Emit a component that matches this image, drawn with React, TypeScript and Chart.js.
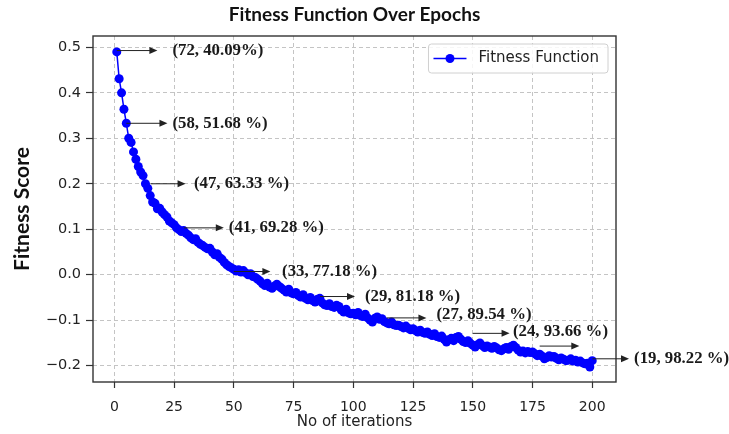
import React, { useEffect, useRef } from "react";
import { Chart, registerables } from "chart.js";

Chart.register(...registerables);

// ---- data ----
const fitness: number[] = [
  0.490, 0.431, 0.400, 0.364, 0.333, 0.300, 0.291, 0.270, 0.254, 0.238,
  0.226, 0.218, 0.200, 0.190, 0.174, 0.160, 0.157, 0.145, 0.146, 0.138,
  0.132, 0.127, 0.118, 0.114, 0.110, 0.103, 0.099, 0.095, 0.097, 0.091,
  0.087, 0.081, 0.077, 0.079, 0.071, 0.067, 0.064, 0.060, 0.057, 0.058,
  0.050, 0.044, 0.046, 0.038, 0.034, 0.027, 0.022, 0.018, 0.015, 0.012,
  0.008, 0.011, 0.006, 0.009, 0.004, 0.000, 0.002, -0.004, -0.006, -0.010,
  -0.014, -0.020, -0.024, -0.019, -0.027, -0.030, -0.025, -0.021, -0.026, -0.030,
  -0.034, -0.038, -0.032, -0.040, -0.042, -0.039, -0.046, -0.049, -0.044, -0.052,
  -0.055, -0.050, -0.057, -0.060, -0.054, -0.052, -0.062, -0.066, -0.068, -0.064,
  -0.070, -0.072, -0.067, -0.070, -0.078, -0.082, -0.076, -0.084, -0.086, -0.085,
  -0.088, -0.083, -0.090, -0.092, -0.087, -0.095, -0.100, -0.104, -0.096, -0.093,
  -0.098, -0.097, -0.103, -0.106, -0.108, -0.104, -0.110, -0.112, -0.111, -0.114,
  -0.117, -0.113, -0.118, -0.121, -0.119, -0.123, -0.126, -0.122, -0.127, -0.129,
  -0.126, -0.131, -0.134, -0.130, -0.136, -0.138, -0.135, -0.142, -0.148, -0.143,
  -0.140, -0.145, -0.138, -0.136, -0.142, -0.147, -0.149, -0.145, -0.151, -0.155,
  -0.159, -0.154, -0.150, -0.156, -0.160, -0.157, -0.159, -0.162, -0.158, -0.161,
  -0.165, -0.167, -0.163, -0.160, -0.164, -0.158, -0.155, -0.160, -0.166, -0.170,
  -0.168, -0.172, -0.169, -0.171, -0.170, -0.174, -0.178, -0.175, -0.179, -0.185,
  -0.182, -0.178, -0.181, -0.180, -0.184, -0.187, -0.183, -0.186, -0.189, -0.188,
  -0.185, -0.190, -0.188, -0.192, -0.190, -0.194, -0.196, -0.195, -0.203, -0.189,
];

const xTickValues: number[] = [0, 25, 50, 75, 100, 125, 150, 175, 200];
const yTickValues: number[] = [-0.2, -0.1, 0.0, 0.1, 0.2, 0.3, 0.4, 0.5];

// annotations (matplotlib-style annotate: arrow from point, text to the right)
const annFromX: number[] = [1, 5, 15.2, 29.1, 50, 86.1, 114, 150, 178, 200.1];
const annFromY: number[] = [0.493, 0.333, 0.2, 0.103, 0.007, -0.048, -0.095, -0.129, -0.157, -0.185];
const annToX: number[] = [18.0, 22.2, 29.8, 45.8, 65.3, 100.7, 130.6, 165.4, 194.6, 215.4];
const annTextX: number[] = [24.3, 24.3, 33.3, 47.9, 70.2, 104.9, 134.8, 166.8, 0, 217.5];
const annTextY: number[] = [0.493, 0.333, 0.2, 0.103, 0.007, -0.048, -0.087, -0.126, -0.157, -0.185];
const annLabels: string[] = [
  "(72, 40.09%)",
  "(58, 51.68 %)",
  "(47, 63.33 %)",
  "(41, 69.28 %)",
  "(33, 77.18 %)",
  "(29, 81.18 %)",
  "(27, 89.54 %)",
  "(24, 93.66 %)",
  "",
  "(19, 98.22 %)",
];

const chartTitle = "Fitness Function Over Epochs";
const seriesName = "Fitness Function";
const xTitle = "No of iterations";
const yTitle = "Fitness Score";

const BLUE = "#0000ff";
const TICK_FONT = "DejaVu Sans";

const decorPlugin = {
  id: "decor",
  afterDraw(chart: any) {
    const { ctx, chartArea } = chart;
    const xs = chart.scales.x;
    const ys = chart.scales.y;
    const { left, right, top, bottom } = chartArea;
    ctx.save();

    // frame
    ctx.strokeStyle = "#333";
    ctx.lineWidth = 1.4;
    ctx.setLineDash([]);
    ctx.strokeRect(left, top, right - left, bottom - top);

    // title
    ctx.fillStyle = "#111";
    ctx.font = "bold 19px Lato";
    ctx.textAlign = "center";
    ctx.textBaseline = "alphabetic";
    ctx.fillText(chartTitle, (left + right) / 2, 21);

    // annotations
    for (let i = 0; i < annLabels.length; i++) {
      const x0 = xs.getPixelForValue(annFromX[i]);
      const y0 = ys.getPixelForValue(annFromY[i]);
      const x1 = xs.getPixelForValue(annToX[i]);
      ctx.strokeStyle = "#222";
      ctx.fillStyle = "#222";
      ctx.lineWidth = 1;
      ctx.beginPath();
      ctx.moveTo(x0, y0);
      ctx.lineTo(x1 - 6, y0);
      ctx.stroke();
      ctx.beginPath();
      ctx.moveTo(x1, y0);
      ctx.lineTo(x1 - 8, y0 - 3.5);
      ctx.lineTo(x1 - 8, y0 + 3.5);
      ctx.closePath();
      ctx.fill();
      if (annLabels[i]) {
        ctx.font = "bold 16.8px 'Liberation Serif'";
        ctx.textAlign = "left";
        ctx.textBaseline = "middle";
        ctx.fillStyle = "#1a1a1a";
        ctx.fillText(annLabels[i], xs.getPixelForValue(annTextX[i]), ys.getPixelForValue(annTextY[i]));
      }
    }

    // legend
    ctx.font = `15px '${TICK_FONT}'`;
    const tw = ctx.measureText(seriesName).width;
    const padL = 5, lineLen = 33, gap = 12, padR = 9;
    const bw = padL + lineLen + gap + tw + padR;
    const bh = 29;
    const bx = right - 8 - bw;
    const by = top + 8;
    ctx.beginPath();
    const r = 3;
    ctx.moveTo(bx + r, by);
    ctx.lineTo(bx + bw - r, by);
    ctx.quadraticCurveTo(bx + bw, by, bx + bw, by + r);
    ctx.lineTo(bx + bw, by + bh - r);
    ctx.quadraticCurveTo(bx + bw, by + bh, bx + bw - r, by + bh);
    ctx.lineTo(bx + r, by + bh);
    ctx.quadraticCurveTo(bx, by + bh, bx, by + bh - r);
    ctx.lineTo(bx, by + r);
    ctx.quadraticCurveTo(bx, by, bx + r, by);
    ctx.closePath();
    ctx.fillStyle = "rgba(255,255,255,0.85)";
    ctx.fill();
    ctx.strokeStyle = "#d0d0d0";
    ctx.lineWidth = 1;
    ctx.stroke();
    const ly = by + bh / 2;
    ctx.strokeStyle = BLUE;
    ctx.lineWidth = 1.5;
    ctx.beginPath();
    ctx.moveTo(bx + padL, ly);
    ctx.lineTo(bx + padL + lineLen, ly);
    ctx.stroke();
    ctx.fillStyle = BLUE;
    ctx.beginPath();
    ctx.arc(bx + padL + lineLen / 2, ly, 4.5, 0, Math.PI * 2);
    ctx.fill();
    ctx.fillStyle = "#222";
    ctx.textAlign = "left";
    ctx.textBaseline = "middle";
    ctx.fillText(seriesName, bx + padL + lineLen + gap, ly);

    ctx.restore();
  },
};

export default function App() {
  const ref = useRef<HTMLCanvasElement | null>(null);

  useEffect(() => {
    if (!ref.current) return;
    const chart = new Chart(ref.current, {
      type: "line",
      data: {
        datasets: [
          {
            label: seriesName,
            data: fitness.map((v, i) => ({ x: i + 1, y: v })),
            borderColor: BLUE,
            backgroundColor: BLUE,
            borderWidth: 1.5,
            pointRadius: 4.5,
            pointBorderWidth: 0,
            pointBackgroundColor: BLUE,
            tension: 0,
          },
        ],
      },
      options: {
        animation: false,
        responsive: true,
        maintainAspectRatio: false,
        layout: { padding: { left: 0, top: 36, right: 113, bottom: 0 } },
        plugins: {
          legend: { display: false },
          title: { display: false },
          tooltip: { enabled: false },
        },
        scales: {
          x: {
            type: "linear",
            min: -8.95,
            max: 209.95,
            afterBuildTicks: (s: any) => {
              s.ticks = xTickValues.map((v) => ({ value: v }));
            },
            afterFit: (s: any) => {
              s.height = 52;
            },
            ticks: {
              color: "#222",
              padding: 11,
              font: { family: TICK_FONT, size: 14 },
              callback: (v: any) => String(v),
              maxRotation: 0,
            },
            grid: {
              color: "#c4c4c4",
              lineWidth: 1,
              tickLength: 6,
              tickColor: "#333",
              tickWidth: 1.2,
            },
            border: { display: false, dash: [4, 3] },
            title: {
              display: true,
              text: xTitle,
              color: "#222",
              font: { family: TICK_FONT, size: 15 },
              padding: { top: 0, bottom: 3 },
            },
          },
          y: {
            type: "linear",
            min: -0.236,
            max: 0.525,
            afterBuildTicks: (s: any) => {
              s.ticks = yTickValues.map((v) => ({ value: v }));
            },
            afterFit: (s: any) => {
              s.width = 93;
            },
            ticks: {
              color: "#222",
              padding: 5,
              font: { family: TICK_FONT, size: 14.5 },
              callback: (v: any) => {
                const n = Number(v);
                const s = Math.abs(n).toFixed(1);
                return n < -1e-9 ? "\u2212" + s : s;
              },
            },
            grid: {
              color: "#c4c4c4",
              lineWidth: 1,
              tickLength: 7,
              tickColor: "#333",
              tickWidth: 1.2,
            },
            border: { display: false, dash: [4, 3] },
            title: {
              display: true,
              text: yTitle,
              color: "#111",
              font: { family: "Lato", size: 21, weight: "bold" },
              padding: { top: 10, bottom: 0 },
            },
          },
        },
      },
      plugins: [decorPlugin],
    });
    return () => chart.destroy();
  }, []);

  return (
    <div style={{ position: "absolute", left: 0, top: 0, width: 729, height: 434, background: "#fff" }}>
      <canvas ref={ref} />
    </div>
  );
}
